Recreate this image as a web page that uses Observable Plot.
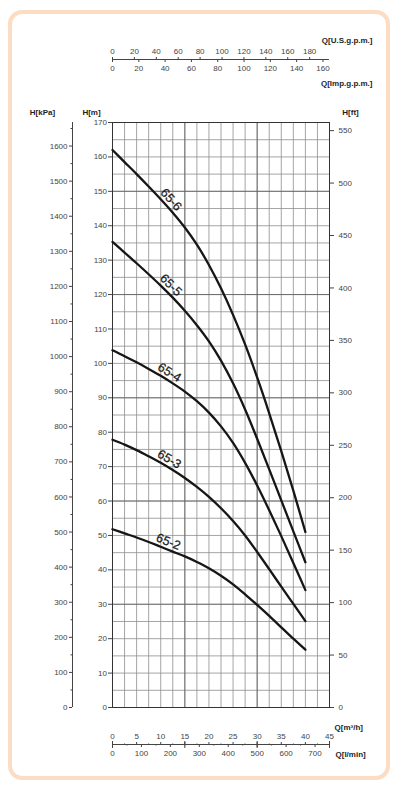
<!DOCTYPE html>
<html><head><meta charset="utf-8">
<script src="https://cdn.jsdelivr.net/npm/d3@7"></script>
<script src="https://cdn.jsdelivr.net/npm/@observablehq/plot@0.6"></script>
<style>
html,body{margin:0;padding:0;background:#fff;}
#wrap{position:relative;width:398px;height:788px;overflow:hidden;background:#fff;}
#border{position:absolute;left:8px;top:10px;width:374px;height:762px;border:4px solid #fcdcc2;border-radius:14px;}
#chart{position:absolute;left:0;top:0;}
</style></head><body>
<div id="wrap"><div id="border"></div><div id="chart"></div></div>
<script>
// ---- data (Q in m3/h, H in m) ----
const flowQ = [0, 2.5, 5, 7.5, 10, 12.5, 15, 17.5, 20, 22.5, 25, 27.5, 30, 32.5, 35, 37.5, 40];
const pumpNames = ["65-6", "65-5", "65-4", "65-3", "65-2"];
const head_65_6 = [162, 158.5, 155, 151.4, 147.7, 143.8, 139.5, 134.5, 128.6, 121.8, 114.1, 105.5, 95.9, 85.5, 74.5, 63, 51];
const head_65_5 = [135.3, 132.2, 129.1, 125.9, 122.6, 119.1, 115.3, 111.1, 106.4, 100.8, 94.2, 86.6, 78.1, 69.2, 60.2, 51.2, 42.2];
const head_65_4 = [103.8, 102.1, 100.3, 98.4, 96.4, 94.2, 91.8, 89.0, 85.7, 81.7, 76.9, 71.1, 64.5, 57.3, 49.8, 42.0, 34.1];
const head_65_3 = [77.8, 76.4, 74.8, 73, 71.1, 69, 66.7, 64.1, 61.2, 57.9, 54.2, 50, 45.2, 40.2, 35.1, 30.1, 25.1];
const head_65_2 = [51.8, 50.6, 49.4, 48.1, 46.7, 45.3, 43.9, 42.3, 40.5, 38.3, 35.8, 32.9, 29.8, 26.6, 23.3, 20.0, 16.8];
const heads = [head_65_6, head_65_5, head_65_4, head_65_3, head_65_2];
const labelQ = 11;

// tick labels
const mTicks = [0,10,20,30,40,50,60,70,80,90,100,110,120,130,140,150,160,170];
const kpaTicks = [0,100,200,300,400,500,600,700,800,900,1000,1100,1200,1300,1400,1500,1600];
const kpaMinor = [50,150,250,350,450,550,650,750,850,950,1050,1150,1250,1350,1450,1550,1650];
const ftTicks = [0,50,100,150,200,250,300,350,400,450,500,550];
const usTicks = [0,20,40,60,80,100,120,140,160,180];
const impTicks = [0,20,40,60,80,100,120,140,160];
const m3hTicks = [0,5,10,15,20,25,30,35,40,45];
const m3hMinor = [2.5,7.5,12.5,17.5,22.5,27.5,32.5,37.5,42.5];
const m3hMajor = [0,15,30,45];
const lminTicks = [0,100,200,300,400,500,600,700];
const lminMinor = [50,150,250,350,450,550,650,750];

// unit conversions
const KPA = 9.80665, FT = 3.28084, US = 4.40287, IMP = 3.66615, LMIN = 1000/60;

// ---- layout ----
const W = 398, H = 788, mL = 112, mR = 69, mT = 122, mB = 81;
const kx = (W - mL - mR) / 45, ky = (H - mT - mB) / 170;
const labelGap = 3.5; // px above the curve, along the normal

const rows = [];
pumpNames.forEach((p, i) => flowQ.forEach((q, j) => rows.push({pump: p, Q: q, H: heads[i][j]})));

const labels = pumpNames.map((p, i) => {
  const h = heads[i];
  const j = flowQ.findIndex(q => q > labelQ) - 1;
  const t = (labelQ - flowQ[j]) / (flowQ[j+1] - flowQ[j]);
  const hv = h[j] + t * (h[j+1] - h[j]);
  const slope = (h[j+1] - h[j]) / (flowQ[j+1] - flowQ[j]);
  const a = Math.atan(-slope * ky / kx);
  const nx = Math.sin(a) * labelGap, ny = -Math.cos(a) * labelGap;
  return {pump: p, Q: labelQ + nx / kx, H: hv - ny / ky, angle: a * 180 / Math.PI};
});

const ink = "#444";
const fnt = "'Liberation Sans', Arial, sans-serif";
const ax = {label: null, fontSize: 8, color: ink};
const blank = () => "";
const title = {text: d => d, fontSize: 8, fontWeight: "bold", fill: "#1e1e1e"};

const chart = Plot.plot({
  width: W, height: H,
  marginLeft: mL, marginRight: mR, marginTop: mT, marginBottom: mB,
  style: {fontFamily: fnt, background: "transparent", overflow: "visible"},
  x: {domain: [0, 45], axis: null},
  y: {domain: [0, 170], axis: null},
  marks: [
    // grid
    Plot.gridX({ticks: d3.range(0, 45.01, 2.5), stroke: "#8e8e8e", strokeOpacity: 1, strokeWidth: 0.8}),
    Plot.gridY({ticks: d3.range(0, 170.01, 5), stroke: "#8e8e8e", strokeOpacity: 1, strokeWidth: 0.8}),
    Plot.gridX({ticks: [15, 30], stroke: "#606060", strokeOpacity: 1, strokeWidth: 0.8}),
    Plot.gridY({ticks: [30, 60, 90, 120, 150], stroke: "#606060", strokeOpacity: 1, strokeWidth: 0.8}),
    Plot.frame({stroke: "#333", strokeWidth: 1}),
    // H[m] axis
    Plot.axisY({...ax, anchor: "left", ticks: mTicks, tickSize: 4, tickPadding: 1.5}),
    // H[kPa] axis
    Plot.ruleX([0], {dx: -40, stroke: ink}),
    Plot.axisY({...ax, anchor: "left", ticks: kpaTicks.map(k => k / KPA), tickFormat: d => String(Math.round(d * KPA)), dx: -40, tickSize: 3, tickPadding: 2}),
    Plot.axisY({...ax, anchor: "left", ticks: kpaMinor.map(k => k / KPA), tickFormat: blank, dx: -40, tickSize: 1.5}),
    // H[ft] axis
    Plot.axisY({...ax, anchor: "right", ticks: ftTicks.map(f => f / FT), tickFormat: d => String(Math.round(d * FT)), tickSize: 4, tickPadding: 5}),
    // top flow axes
    Plot.ruleY([170], {dy: -63, stroke: ink}),
    Plot.axisX({...ax, anchor: "top", ticks: usTicks.map(g => g / US), tickFormat: d => String(Math.round(d * US)), dy: -63, tickSize: 3, tickPadding: 3}),
    Plot.axisX({...ax, anchor: "bottom", ticks: impTicks.map(g => g / IMP), tickFormat: d => String(Math.round(d * IMP)), dy: -(H - mB - mT) - 63, tickSize: 3, tickPadding: 3}),
    // bottom flow axes
    Plot.ruleY([0], {dy: 37, stroke: ink}),
    Plot.axisX({...ax, anchor: "top", ticks: m3hTicks, dy: (H - mB - mT) + 37, tickSize: 3, tickPadding: 3}),
    Plot.axisX({...ax, anchor: "top", ticks: m3hMinor, tickFormat: blank, dy: (H - mB - mT) + 37, tickSize: 1.5}),
    Plot.axisX({...ax, anchor: "top", ticks: m3hMajor, tickFormat: blank, dy: (H - mB - mT) + 37, tickSize: 4}),
    Plot.axisX({...ax, anchor: "bottom", ticks: lminTicks.map(l => l / LMIN), tickFormat: d => String(Math.round(d * LMIN)), dy: 37, tickSize: 3, tickPadding: 3}),
    Plot.axisX({...ax, anchor: "bottom", ticks: lminMinor.map(l => l / LMIN), tickFormat: blank, dy: 37, tickSize: 1.5}),
    Plot.axisX({...ax, anchor: "bottom", ticks: m3hMajor, tickFormat: blank, dy: 37, tickSize: 4}),
    // curves
    Plot.line(rows, {x: "Q", y: "H", z: "pump", stroke: "#161616", strokeWidth: 2.3, curve: "catmull-rom"}),
    Plot.text(labels, {x: "Q", y: "H", text: "pump", rotate: "angle", lineAnchor: "bottom", textAnchor: "middle", fontSize: 12.5, fill: "#1a1a1a", stroke: "#1a1a1a", strokeWidth: 0.25}),
    // axis titles
    Plot.text(["H[kPa]"], {...title, frameAnchor: "top-left", textAnchor: "middle", dx: -70, dy: -13}),
    Plot.text(["H[m]"], {...title, frameAnchor: "top-left", textAnchor: "middle", dx: -21, dy: -13}),
    Plot.text(["H[ft]"], {...title, frameAnchor: "top-right", textAnchor: "middle", dx: 21, dy: -13}),
    Plot.text(["Q[U.S.g.p.m.]"], {...title, frameAnchor: "top-right", textAnchor: "end", dx: 43, dy: -85}),
    Plot.text(["Q[Imp.g.p.m.]"], {...title, frameAnchor: "top-right", textAnchor: "end", dx: 43, dy: -42}),
    Plot.text(["Q[m³/h]"], {...title, frameAnchor: "bottom-right", textAnchor: "start", dx: 5, dy: 22}),
    Plot.text(["Q[l/min]"], {...title, frameAnchor: "bottom-right", textAnchor: "start", dx: 6, dy: 49})
  ]
});
document.getElementById("chart").appendChild(chart);
</script>
</body></html>
